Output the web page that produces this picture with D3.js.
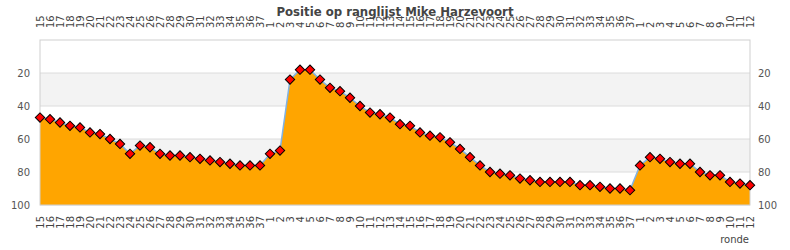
<!DOCTYPE html>
<html>
<head>
<meta charset="utf-8">
<script src="https://cdn.jsdelivr.net/npm/d3@7"></script>
<style>
  body { margin: 0; background: #fff; }
  svg { display: block; font-family: "DejaVu Sans", sans-serif; }
</style>
</head>
<body>
<svg id="chart" width="790" height="250"></svg>
<script>
// ronde labels per seizoen
const rounds1 = [15,16,17,18,19,20,21,22,23,24,25,26,27,28,29,30,31,32,33,34,35,36,37];
const rounds2 = [1,2,3,4,5,6,7,8,9,10,11,12,13,14,15,16,17,18,19,20,21,22,23,24,25,26,27,28,29,30,31,32,33,34,35,36,37];
const rounds3 = [1,2,3,4,5,6,7,8,9,10,11,12];

// positie op ranglijst
const pos1 = [47,48,50,52,53,56,57,60,63,69,64,65,69,70,70,71,72,73,74,75,76,76,76];
const pos2 = [69,67,24,18,18,24,29,31,35,40,44,45,47,51,52,56,58,59,62,66,71,76,80,81,82,84,85,86,86,86,86,88,88,89,90,90,91];
const pos3 = [76,71,72,74,75,75,80,82,82,86,87,88];

const yTicks = [20, 40, 60, 80, 100];
const bands = [[20, 40], [60, 80]];

(() => {
    let margin = {top: 40, right: 40, bottom: 45, left: 40},
        width = 790 - margin.left - margin.right,
        height = 250 - margin.top - margin.bottom,
        labels = rounds1.concat(rounds2, rounds3),
        data = pos1.concat(pos2, pos3).map((v, i) => ({i: i, v: v})),
        x = d3.scalePoint().domain(d3.range(labels.length)).range([0, width]),
        y = d3.scaleLinear().domain([0, 100]).range([0, height]);

    let svg = d3.select("svg#chart");

    let g = svg.append("g")
        .attr("transform", "translate(" + margin.left + "," + margin.top + ")");

    g.selectAll(".band")
        .data(bands)
        .enter().append("rect")
        .attr("x", 0)
        .attr("width", width)
        .attr("y", d => y(d[0]))
        .attr("height", d => y(d[1]) - y(d[0]))
        .attr("fill", "#f3f3f3");

    g.selectAll(".grid")
        .data(yTicks)
        .enter().append("line")
        .attr("x1", 0).attr("x2", width)
        .attr("y1", d => y(d)).attr("y2", d => y(d))
        .attr("stroke", "#dcdcdc");

    let area = d3.area()
        .x(d => x(d.i))
        .y0(y(100))
        .y1(d => y(d.v));

    let line = d3.line()
        .x(d => x(d.i))
        .y(d => y(d.v));

    g.append("path")
        .datum(data)
        .attr("d", area)
        .attr("fill", "#ffa500");

    g.append("path")
        .datum(data)
        .attr("d", line)
        .attr("fill", "none")
        .attr("stroke", "#7fb2e5")
        .attr("stroke-width", 1.5);

    // frame
    g.append("rect")
        .attr("width", width)
        .attr("height", height)
        .attr("fill", "none")
        .attr("stroke", "#cfcfcf");

    let sym = d3.symbol().type(d3.symbolSquare).size(44);
    g.selectAll(".pt")
        .data(data)
        .enter().append("path")
        .attr("d", sym)
        .attr("transform", d => "translate(" + x(d.i) + "," + y(d.v) + ") rotate(45)")
        .attr("fill", "#ff0000")
        .attr("stroke", "#000")
        .attr("stroke-width", 1);

    // y tick labels both sides
    [[-10, "end"], [width + 8, "start"]].forEach(([tx, anchor]) => {
        g.selectAll(null)
            .data(yTicks)
            .enter().append("text")
            .attr("x", tx)
            .attr("y", d => y(d))
            .attr("dy", "0.35em")
            .attr("text-anchor", anchor)
            .attr("font-size", 10)
            .attr("fill", "#555")
            .text(d => d);
    });

    // x labels top and bottom
    let fmt = i => labels[i];
    let top = g.append("g")
        .call(d3.axisTop(x).tickSize(0).tickPadding(0).tickFormat(fmt));
    top.select(".domain").remove();
    top.selectAll("text")
        .attr("transform", "rotate(-90)")
        .attr("x", 12)
        .attr("y", 0)
        .attr("dy", "0.35em")
        .attr("text-anchor", "start")
        .attr("font-size", 10)
        .attr("font-family", "DejaVu Sans")
        .attr("fill", "#444");

    let bottom = g.append("g")
        .attr("transform", "translate(0," + height + ")")
        .call(d3.axisBottom(x).tickSize(0).tickPadding(0).tickFormat(fmt));
    bottom.select(".domain").remove();
    bottom.selectAll("text")
        .attr("transform", "rotate(-90)")
        .attr("x", -11)
        .attr("y", 0)
        .attr("dy", "0.35em")
        .attr("text-anchor", "end")
        .attr("font-size", 10)
        .attr("font-family", "DejaVu Sans")
        .attr("fill", "#444");

    g.append("text")
        .attr("x", width - 1)
        .attr("y", height + 38)
        .attr("text-anchor", "end")
        .attr("font-size", 10)
        .attr("fill", "#444")
        .text("ronde");

    // title drawn last, over the top labels
    svg.append("text")
        .attr("x", 395)
        .attr("y", 16)
        .attr("text-anchor", "middle")
        .attr("font-family", "DejaVu Sans Condensed")
        .attr("font-size", 13)
        .attr("font-weight", "bold")
        .attr("fill", "#444")
        .text("Positie op ranglijst Mike Harzevoort");
})();
</script>
</body>
</html>
